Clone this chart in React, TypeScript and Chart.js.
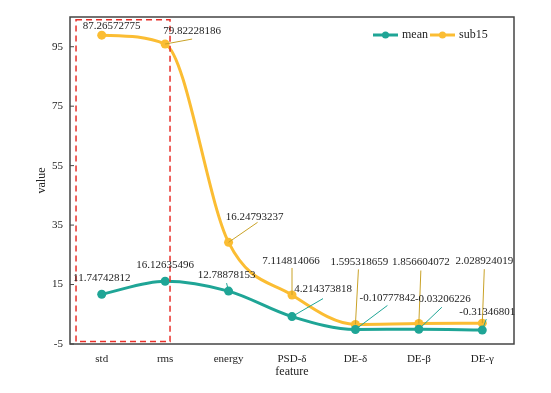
import React, { useEffect, useRef } from 'react';
import { Chart, registerables } from 'chart.js';

Chart.register(...registerables);

const categories = ['std', 'rms', 'energy', 'PSD-δ', 'DE-δ', 'DE-β', 'DE-γ'];
const meanValues = [11.74742812, 16.12635496, 12.78878153, 4.214373818, -0.10777842, -0.03206226, -0.31346801];
const sub15Values = [98.9, 95.9, 29.2, 11.5, 1.6, 1.9, 2.0];
const meanLabels = ['11.74742812', '16.12635496', '12.78878153', '4.214373818', '-0.10777842', '-0.03206226', '-0.31346801'];
const sub15Labels = ['87.26572775', '79.82228186', '16.24793237', '7.114814066', '1.595318659', '1.856604072', '2.028924019'];
const yTicks = [-5, 15, 35, 55, 75, 95];

// label placement (pixel offsets from the point): [textDx, textDy, leaderDx, leaderDy] (leader null = none)
const meanLabelOffsets: [number, number, number | null, number | null][] = [
  [0, -16, null, null],
  [0, -16, null, null],
  [-2, -16, -2, -8],
  [31, -27, 31, -18],
  [32, -31, 32, -24],
  [24, -30, 23, -22],
  [5, -18, 4, -11],
];
const sub15LabelOffsets: [number, number, number | null, number | null][] = [
  [10, -9, null, null],
  [27, -13, 27, -5],
  [26, -25, 29, -20],
  [-1, -34, 0, -27],
  [4, -62, 3, -55],
  [2, -61, 2, -53],
  [2, -62, 2, -54],
];

const TEAL = '#1fa596';
const GOLD = '#fbbd33';
const FONT = "'Liberation Serif', 'Times New Roman', serif";

const framePlugin = {
  id: 'frame',
  afterDraw(chart: any) {
    const { ctx, chartArea: a, scales } = chart;
    const x = scales.x;
    const y = scales.y;
    ctx.save();
    // frame
    ctx.strokeStyle = '#444';
    ctx.lineWidth = 1.5;
    ctx.strokeRect(a.left, a.top, a.right - a.left, a.bottom - a.top);
    // inward y ticks
    ctx.lineWidth = 1;
    yTicks.forEach((v) => {
      const py = y.getPixelForValue(v);
      ctx.beginPath();
      ctx.moveTo(a.left, py);
      ctx.lineTo(a.left + 4, py);
      ctx.stroke();
    });
    // dashed highlight box
    const bx1 = x.getPixelForValue(-0.405);
    const bx2 = x.getPixelForValue(1.077);
    const by1 = y.getPixelForValue(104.1);
    const by2 = y.getPixelForValue(-4.2);
    ctx.strokeStyle = '#e8302a';
    ctx.lineWidth = 1.5;
    ctx.setLineDash([6, 4]);
    ctx.strokeRect(bx1, by1, bx2 - bx1, by2 - by1);
    ctx.setLineDash([]);

    // value labels
    ctx.font = `11px ${FONT}`;
    ctx.textAlign = 'center';
    ctx.textBaseline = 'middle';
    const drawLabels = (dsIndex: number, labels: string[], offs: any[], leaderColor: string) => {
      const meta = chart.getDatasetMeta(dsIndex);
      meta.data.forEach((pt: any, i: number) => {
        const [tdx, tdy, ldx, ldy] = offs[i];
        if (ldx !== null) {
          ctx.strokeStyle = leaderColor;
          ctx.lineWidth = 1;
          ctx.beginPath();
          ctx.moveTo(pt.x, pt.y);
          ctx.lineTo(pt.x + ldx, pt.y + ldy);
          ctx.stroke();
        }
        ctx.fillStyle = '#222';
        ctx.fillText(labels[i], pt.x + tdx, pt.y + tdy);
      });
    };
    drawLabels(1, sub15Labels, sub15LabelOffsets, '#c9a227');
    drawLabels(0, meanLabels, meanLabelOffsets, TEAL);

    // legend
    const ly = a.top + 18;
    let lx = a.right - 141;
    chart.data.datasets.forEach((ds: any) => {
      ctx.strokeStyle = ds.borderColor;
      ctx.lineWidth = 3;
      ctx.beginPath();
      ctx.moveTo(lx, ly);
      ctx.lineTo(lx + 25, ly);
      ctx.stroke();
      ctx.fillStyle = ds.borderColor;
      ctx.beginPath();
      ctx.arc(lx + 12.5, ly, 3.5, 0, Math.PI * 2);
      ctx.fill();
      ctx.fillStyle = '#222';
      ctx.textAlign = 'left';
      ctx.font = `12px ${FONT}`;
      ctx.fillText(ds.label, lx + 29, ly);
      lx += 29 + ctx.measureText(ds.label).width + 2;
    });
    ctx.restore();
  },
};

export default function App() {
  const ref = useRef<HTMLCanvasElement>(null);
  useEffect(() => {
    document.body.style.margin = '0';
    const chart = new Chart(ref.current as HTMLCanvasElement, {
      type: 'line',
      data: {
        labels: categories,
        datasets: [
          {
            label: 'mean',
            data: meanValues,
            borderColor: TEAL,
            backgroundColor: TEAL,
            borderWidth: 3,
            pointRadius: 4.5,
            pointBackgroundColor: TEAL,
            pointBorderWidth: 0,
            cubicInterpolationMode: 'monotone',
          },
          {
            label: 'sub15',
            data: sub15Values,
            borderColor: GOLD,
            backgroundColor: GOLD,
            borderWidth: 3,
            pointRadius: 4.5,
            pointBackgroundColor: GOLD,
            pointBorderWidth: 0,
            cubicInterpolationMode: 'monotone',
          },
        ],
      },
      options: {
        responsive: false,
        animation: false,
        devicePixelRatio: 1,
        layout: { padding: { left: 0, right: 37, top: 17, bottom: 0 } },
        plugins: { legend: { display: false }, tooltip: { enabled: false } },
        scales: {
          x: {
            offset: true,
            grid: { display: false, drawTicks: false },
            border: { display: false },
            ticks: { color: '#222', padding: 9, font: { family: FONT, size: 11 } },
            title: { display: true, text: 'feature', color: '#222', padding: { top: 0, bottom: 14 }, font: { family: FONT, size: 12 } },
            afterFit: (s: any) => { s.height = 49; },
          },
          y: {
            min: -5,
            max: 105,
            grid: { display: false, drawTicks: false },
            border: { display: false },
            ticks: { color: '#222', padding: 7, font: { family: FONT, size: 11 } },
            afterBuildTicks: (s: any) => { s.ticks = yTicks.map((v) => ({ value: v })); },
            title: { display: true, text: 'value', color: '#222', padding: { top: 35, bottom: 0 }, font: { family: FONT, size: 12 } },
            afterFit: (s: any) => { s.width = 70; },
          },
        },
      },
      plugins: [framePlugin],
    } as any);
    return () => chart.destroy();
  }, []);
  return <canvas ref={ref} width={551} height={393} style={{ display: 'block' }} />;
}
